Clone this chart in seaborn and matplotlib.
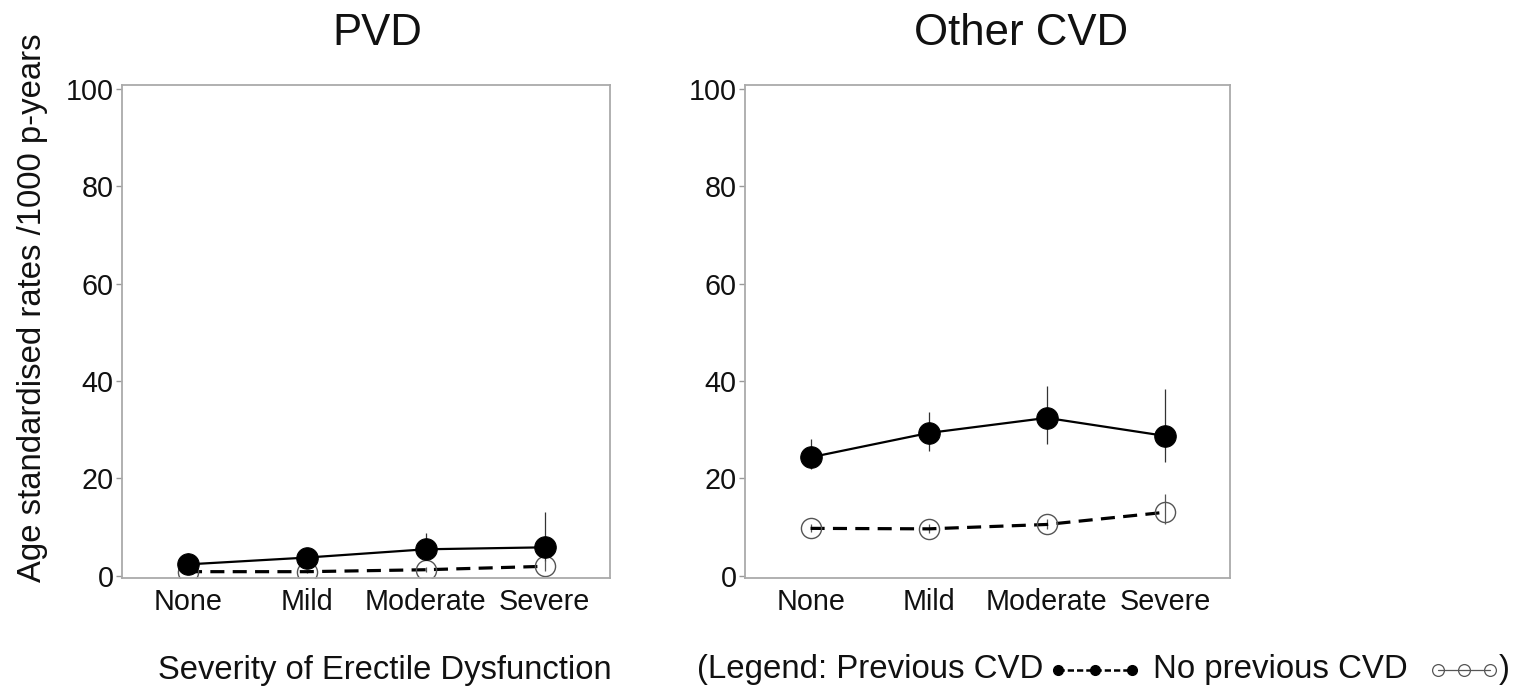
import numpy as np
import pandas as pd
import matplotlib
matplotlib.use("Agg")
import matplotlib.pyplot as plt
import seaborn as sns
from matplotlib.lines import Line2D
from matplotlib.offsetbox import TextArea, HPacker, AnchoredOffsetbox, DrawingArea

categories = ["None", "Mild", "Moderate", "Severe"]
yticks = [0, 20, 40, 60, 80, 100]

# PVD panel
pvd_prev = [2.3, 3.7, 5.4, 5.8]
pvd_prev_lo = [1.3, 2.4, 3.8, 3.0]
pvd_prev_hi = [4.7, 5.4, 8.7, 13.0]
pvd_noprev = [0.8, 0.8, 1.2, 1.9]
pvd_noprev_lo = [0.5, 0.5, 0.8, 1.0]
pvd_noprev_hi = [1.2, 1.2, 1.7, 3.2]

# Other CVD panel
oth_prev = [24.3, 29.3, 32.4, 28.7]
oth_prev_lo = [21.9, 25.6, 27.0, 23.3]
oth_prev_hi = [28.0, 33.6, 39.0, 38.4]
oth_noprev = [9.7, 9.6, 10.5, 13.0]
oth_noprev_lo = [8.9, 8.8, 9.5, 10.5]
oth_noprev_hi = [10.6, 10.5, 11.6, 16.7]

sns.set_style("white")
plt.rcParams["font.family"] = ["Liberation Sans", "DejaVu Sans"]

W, H = 1524, 688
fig = plt.figure(figsize=(W / 100, H / 100), dpi=100)
TXT = "#111111"


def panel(rect, title, title_x, prev, prev_lo, prev_hi, nop, nop_lo, nop_hi):
    ax = fig.add_axes(rect)
    pos = np.arange(len(categories))
    df = pd.DataFrame({"pos": pos, "prev": prev, "nop": nop})
    ax.vlines(pos, prev_lo, prev_hi, color="#333333", lw=0.9, zorder=1)
    ax.vlines(pos, nop_lo, nop_hi, color="#555555", lw=0.9, zorder=1)
    sns.lineplot(data=df, x="pos", y="nop", ax=ax, errorbar=None,
                 color="black", lw=2.3, linestyle=(0, (4.4, 2.6)),
                 marker="o", markersize=14.5, markerfacecolor="none",
                 markeredgecolor="#555555", markeredgewidth=1.0, zorder=2)
    sns.lineplot(data=df, x="pos", y="prev", ax=ax, errorbar=None,
                 color="black", lw=1.6, marker="o", markersize=15.5,
                 markerfacecolor="black", markeredgecolor="black", zorder=3)
    ax.set_xlim(-0.555, 3.55)
    ax.set_ylim(-0.5, 100.8)
    ax.set_xticks(pos)
    ax.set_xticklabels(categories)
    ax.set_yticks(yticks)
    ax.set_xlabel("")
    ax.set_ylabel("")
    ax.tick_params(axis="x", length=0, pad=7, labelsize=20.7, labelcolor=TXT)
    ax.tick_params(axis="y", length=4, width=1, color="#999999", pad=2,
                   labelsize=20.7, labelcolor=TXT, left=True)
    for s in ax.spines.values():
        s.set_color("#aaaaaa")
        s.set_linewidth(1.3)
    fig.text(title_x / W, 1 - 45 / H, title, ha="center", va="baseline",
             fontsize=31.5, color=TXT)
    return ax


top, bottom = 85, 578
panel([122 / W, 1 - bottom / H, (610 - 122) / W, (bottom - top) / H],
      "PVD", 377, pvd_prev, pvd_prev_lo, pvd_prev_hi,
      pvd_noprev, pvd_noprev_lo, pvd_noprev_hi)
panel([745 / W, 1 - bottom / H, (1230 - 745) / W, (bottom - top) / H],
      "Other CVD", 1021, oth_prev, oth_prev_lo, oth_prev_hi,
      oth_noprev, oth_noprev_lo, oth_noprev_hi)

fig.text(33 / W, 1 - 308 / H, "Age standardised rates /1000 p-years",
         rotation=90, ha="center", va="center", fontsize=23.7, color=TXT)
fig.text(158 / W, 1 - 679 / H, "Severity of Erectile Dysfunction",
         ha="left", va="baseline", fontsize=23.6, color=TXT)

# legend line: text with small symbol glyphs
PT = 100 / 72.0  # pixels per point
tp = dict(fontsize=23.8, color=TXT)


def spacer(px):
    return DrawingArea(px / PT, 1, 0, 0)


def glyph(width_px, filled):
    w = width_px / PT
    da = DrawingArea(w, 12, 0, 0)
    yc = 8 / PT
    if filled:
        ln = Line2D([3 / PT, w / 2, w - 3 / PT], [yc, yc, yc], color="black",
                    lw=1.8, marker="o", markersize=7, markerfacecolor="black",
                    linestyle=(0, (2.5, 1.2)))
    else:
        ln = Line2D([6 / PT, w / 2, w - 6 / PT], [yc, yc, yc], color="#555555",
                    lw=0.9, marker="o", markersize=8.5, markerfacecolor="none",
                    markeredgecolor="#555555", markeredgewidth=0.9)
    da.add_artist(ln)
    return da


items = [
    TextArea("(Legend: Previous CVD", textprops=tp),
    spacer(12), glyph(80, True), spacer(18),
    TextArea("No previous CVD", textprops=tp),
    spacer(24), glyph(64, False), spacer(3),
    TextArea(")", textprops=tp),
]
pack = HPacker(children=items, align="baseline", pad=0, sep=0)
ab = AnchoredOffsetbox(loc="lower left", child=pack, pad=0, borderpad=0,
                       frameon=False, bbox_to_anchor=(697 / W, 3 / H),
                       bbox_transform=fig.transFigure)
fig.add_artist(ab)

fig.savefig("out.png", dpi=100, facecolor="white")
